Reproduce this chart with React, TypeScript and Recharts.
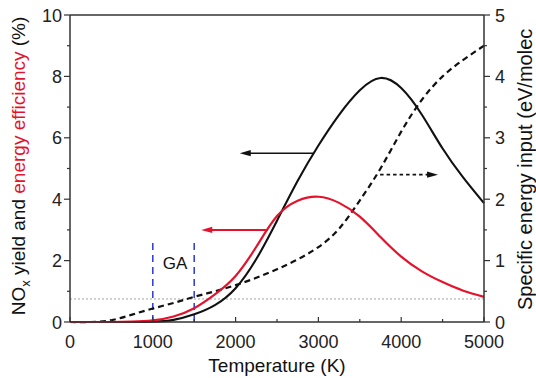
import { ComposedChart, Line, XAxis, YAxis, ReferenceLine, ReferenceDot } from 'recharts'

const temps = [0, 250, 500, 750, 1000, 1250, 1500, 1750, 2000, 2250, 2500, 2750, 3000, 3250, 3500, 3750, 4000, 4250, 4500, 4750, 5000]
const noxYield = [0, 0, 0, 0, 0.01, 0.07, 0.25, 0.55, 1.1, 2.05, 3.3, 4.6, 5.75, 6.75, 7.55, 7.95, 7.62, 6.75, 5.65, 4.7, 3.87]
const energyEff = [0, 0, 0, 0.01, 0.05, 0.18, 0.45, 0.9, 1.5, 2.45, 3.45, 3.95, 4.08, 3.88, 3.43, 2.77, 2.13, 1.65, 1.3, 1.02, 0.82]
const specEnergy = [0, 0, 0.03, 0.12, 0.22, 0.31, 0.41, 0.5, 0.6, 0.72, 0.86, 1.02, 1.22, 1.52, 1.98, 2.5, 3.1, 3.62, 4.0, 4.27, 4.5]

const xTicks = [0, 500, 1000, 1500, 2000, 2500, 3000, 3500, 4000, 4500, 5000]
const leftTicks = [0, 1, 2, 3, 4, 5, 6, 7, 8, 9, 10]
const rightTicks = [0, 0.5, 1, 1.5, 2, 2.5, 3, 3.5, 4, 4.5, 5]

const data = temps.map((t, i) => ({
  t,
  nox: noxYield[i],
  eff: energyEff[i],
  sei: specEnergy[i],
}))

const RED = '#e4132b'
const BLUE = '#2a3ad0'
const AXIS = '#333'
const FONT = '"Liberation Sans", Arial, sans-serif'

function BottomTick(props: any) {
  const { x, y, payload } = props
  const major = payload.value % 1000 === 0
  return (
    <g>
      <line x1={x} x2={x} y1={y} y2={y - (major ? 5 : 3)} stroke={AXIS} strokeWidth={1.2} />
      {major && (
        <text x={x} y={y + 26} textAnchor="middle" fontSize={18} fontFamily={FONT} fill="#222">
          {payload.value}
        </text>
      )}
    </g>
  )
}

function LeftTick(props: any) {
  const { x, y, payload } = props
  const major = payload.value % 2 === 0
  return (
    <g>
      <line x1={x} x2={x - (major ? 6 : 3)} y1={y} y2={y} stroke={AXIS} strokeWidth={1.2} />
      {major && (
        <text x={x - 8} y={y + 6.5} textAnchor="end" fontSize={18} fontFamily={FONT} fill="#222">
          {payload.value}
        </text>
      )}
    </g>
  )
}

function RightTick(props: any) {
  const { x, y, payload } = props
  const major = payload.value % 1 === 0
  return (
    <g>
      <line x1={x} x2={x + (major ? 6 : 3)} y1={y} y2={y} stroke={AXIS} strokeWidth={1.2} />
      {major && (
        <text x={x + 11} y={y + 6.5} textAnchor="start" fontSize={18} fontFamily={FONT} fill="#222">
          {payload.value}
        </text>
      )}
    </g>
  )
}

function arrowShape(color: string, width: number, dash?: string) {
  return (props: any) => {
    const { x1, y1, x2, y2 } = props
    const dir = x2 < x1 ? -1 : 1
    const len = 11
    const half = 3.2
    return (
      <g>
        <line x1={x1} y1={y1} x2={x2 - dir * len * 0.6} y2={y2} stroke={color} strokeWidth={width} strokeDasharray={dash} />
        <polygon
          points={`${x2},${y2} ${x2 - dir * len},${y2 - half} ${x2 - dir * len},${y2 + half}`}
          fill={color}
        />
      </g>
    )
  }
}

function BottomLabel(props: any) {
  const { viewBox } = props
  const cx = viewBox.x + viewBox.width / 2
  return (
    <text x={cx} y={372} textAnchor="middle" fontSize={19} fontFamily={FONT} fill="#111">
      Temperature (K)
    </text>
  )
}

function LeftLabel(props: any) {
  const cx = 25
  const cy = 166
  return (
    <text
      x={cx}
      y={cy}
      transform={`rotate(-90, ${cx}, ${cy})`}
      textAnchor="middle"
      fontSize={19}
      fontFamily={FONT}
      fill="#111"
    >
      NO
      <tspan fontSize={13} dy={5}>x</tspan>
      <tspan dy={-5}> yield and </tspan>
      <tspan fill={RED}>energy efficiency</tspan>
      <tspan> (%)</tspan>
    </text>
  )
}

function RightLabel(props: any) {
  const cx = 532
  const cy = 310
  return (
    <text
      x={cx}
      y={cy}
      transform={`rotate(-90, ${cx}, ${cy})`}
      textAnchor="start"
      fontSize={20}
      fontFamily={FONT}
      fill="#111"
    >
      Specific energy input (eV/molec
    </text>
  )
}

export default function App() {
  return (
    <div style={{ position: 'absolute', left: 0, top: 0, background: '#fff' }}>
      <ComposedChart
        width={536}
        height={378}
        data={data}
        margin={{ top: 15, right: 12, bottom: 16, left: 10 }}
      >
        <XAxis
          dataKey="t"
          type="number"
          domain={[0, 5000]}
          ticks={xTicks}
          interval={0}
          tickSize={0}
          tickMargin={0}
          tickLine={false}
          tick={(p: any) => <BottomTick {...p} />}
          axisLine={{ stroke: AXIS, strokeWidth: 1.5 }}
          height={40}
          label={<BottomLabel />}
        />
        <YAxis
          yAxisId="left"
          domain={[0, 10]}
          ticks={leftTicks}
          interval={0}
          tickSize={0}
          tickMargin={0}
          tickLine={false}
          tick={(p: any) => <LeftTick {...p} />}
          axisLine={{ stroke: AXIS, strokeWidth: 1.5 }}
          width={60}
          label={<LeftLabel />}
        />
        <YAxis
          yAxisId="right"
          orientation="right"
          domain={[0, 5]}
          ticks={rightTicks}
          interval={0}
          tickSize={0}
          tickMargin={0}
          tickLine={false}
          tick={(p: any) => <RightTick {...p} />}
          axisLine={{ stroke: AXIS, strokeWidth: 1.5 }}
          width={40}
          label={<RightLabel />}
        />
        <ReferenceLine yAxisId="left" y={10} stroke={AXIS} strokeWidth={1.5} />
        <ReferenceLine yAxisId="left" y={0.75} stroke="#888" strokeWidth={0.8} strokeDasharray="2 2" />
        <ReferenceLine
          yAxisId="left"
          segment={[{ x: 1000, y: 0 }, { x: 1000, y: 2.62 }]}
          stroke={BLUE}
          strokeWidth={1.5}
          strokeDasharray="7 5"
        />
        <ReferenceLine
          yAxisId="left"
          segment={[{ x: 1500, y: 0 }, { x: 1500, y: 2.62 }]}
          stroke={BLUE}
          strokeWidth={1.5}
          strokeDasharray="7 5"
        />
        <ReferenceDot
          yAxisId="left"
          x={1268}
          y={1.92}
          r={0}
          shape={(p: any) => (
            <text x={p.cx} y={p.cy + 6} textAnchor="middle" fontSize={17} fontFamily={FONT} fill="#111">
              GA
            </text>
          )}
        />
        <ReferenceLine
          yAxisId="left"
          segment={[{ x: 2935, y: 5.5 }, { x: 2050, y: 5.5 }]}
          shape={arrowShape('#111', 1.5)}
        />
        <ReferenceLine
          yAxisId="left"
          segment={[{ x: 2390, y: 3.0 }, { x: 1585, y: 3.0 }]}
          shape={arrowShape(RED, 2)}
        />
        <ReferenceLine
          yAxisId="right"
          segment={[{ x: 3745, y: 2.4 }, { x: 4445, y: 2.4 }]}
          shape={arrowShape('#111', 1.8, '3.5 3')}
        />
        <Line
          yAxisId="right"
          type="natural"
          dataKey="sei"
          stroke="#111"
          strokeWidth={2.2}
          strokeDasharray="6 4"
          dot={false}
          isAnimationActive={false}
        />
        <Line
          yAxisId="left"
          type="natural"
          dataKey="nox"
          stroke="#111"
          strokeWidth={2.1}
          dot={false}
          isAnimationActive={false}
        />
        <Line
          yAxisId="left"
          type="natural"
          dataKey="eff"
          stroke={RED}
          strokeWidth={2.2}
          dot={false}
          isAnimationActive={false}
        />
      </ComposedChart>
    </div>
  )
}
